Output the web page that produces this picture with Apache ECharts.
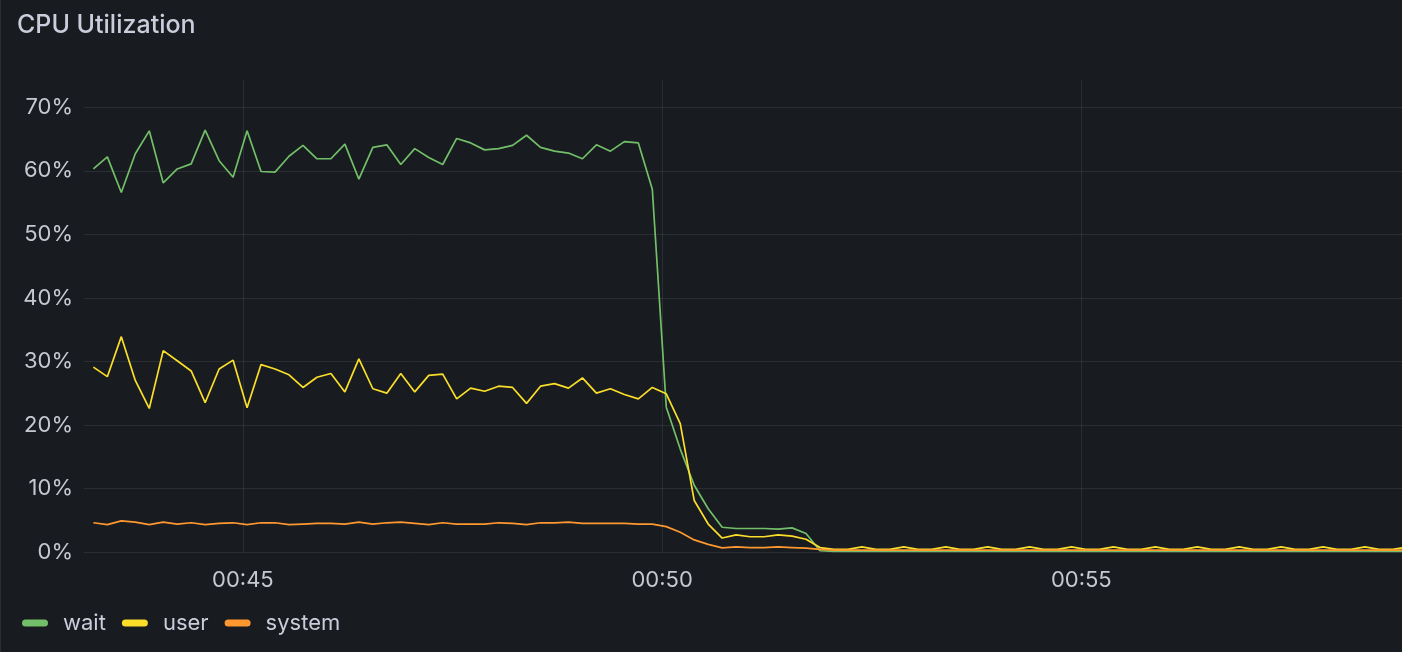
<!DOCTYPE html>
<html>
<head>
<meta charset="utf-8">
<script src="https://cdn.jsdelivr.net/npm/echarts@6/dist/echarts.min.js"></script>
<style>
html, body { margin: 0; padding: 0; background: #181b1f; }
#chart { width: 1402px; height: 652px; box-sizing: border-box; border-left: 1px solid #2a2d33; }
</style>
</head>
<body>
<div id="chart"></div>
<script>
// samples every 10s, starting 00:43:13
const seriesNames = ['wait', 'user', 'system'];
const seriesColors = ['#73bf69', '#fade2a', '#ff9830'];

const waitValues = [
    60.3, 62.2, 56.6, 62.7, 66.3, 58.1, 60.3, 61.1, 66.4, 61.6,
    59.0, 66.3, 59.9, 59.8, 62.3, 64.0, 61.9, 61.9, 64.2, 58.7,
    63.7, 64.1, 61.0, 63.5, 62.1, 61.0, 65.1, 64.4, 63.3, 63.5,
    64.0, 65.6, 63.7, 63.1, 62.8, 61.9, 64.1, 63.1, 64.6, 64.4,
    57.1, 22.8, 16.2, 10.5, 6.8, 3.9, 3.7, 3.7, 3.7, 3.6,
    3.8, 2.9, 0.2, 0.1, 0.1, 0.1, 0.1, 0.1, 0.1, 0.1,
    0.1, 0.1, 0.1, 0.1, 0.1, 0.1, 0.1, 0.1, 0.1, 0.1,
    0.1, 0.1, 0.1, 0.1, 0.1, 0.1, 0.1, 0.1, 0.1, 0.1,
    0.1, 0.1, 0.1, 0.1, 0.1, 0.1, 0.1, 0.1, 0.1, 0.1,
    0.1, 0.1, 0.1, 0.1, 0.1
];
const userValues = [
    29.1, 27.6, 33.9, 27.0, 22.6, 31.7, 30.1, 28.5, 23.5, 28.8,
    30.2, 22.7, 29.5, 28.8, 27.9, 25.9, 27.5, 28.1, 25.2, 30.4,
    25.7, 25.0, 28.1, 25.2, 27.8, 28.0, 24.1, 25.8, 25.3, 26.1,
    25.9, 23.4, 26.1, 26.5, 25.8, 27.4, 25.0, 25.7, 24.8, 24.1,
    25.9, 24.9, 20.2, 8.1, 4.4, 2.2, 2.7, 2.4, 2.4, 2.7,
    2.5, 2.0, 0.7, 0.4, 0.4, 0.8, 0.4, 0.4, 0.8, 0.4,
    0.4, 0.8, 0.4, 0.4, 0.8, 0.4, 0.4, 0.8, 0.4, 0.4,
    0.8, 0.4, 0.4, 0.8, 0.4, 0.4, 0.8, 0.4, 0.4, 0.8,
    0.4, 0.4, 0.8, 0.4, 0.4, 0.8, 0.4, 0.4, 0.8, 0.4,
    0.4, 0.8, 0.4, 0.4, 0.8
];
const systemValues = [
    4.6, 4.3, 4.9, 4.7, 4.3, 4.7, 4.4, 4.6, 4.3, 4.5,
    4.6, 4.3, 4.6, 4.6, 4.3, 4.4, 4.5, 4.5, 4.4, 4.7,
    4.4, 4.6, 4.7, 4.5, 4.3, 4.6, 4.4, 4.4, 4.4, 4.6,
    4.5, 4.3, 4.6, 4.6, 4.7, 4.5, 4.5, 4.5, 4.5, 4.4,
    4.4, 4.0, 3.1, 1.9, 1.2, 0.65, 0.8, 0.7, 0.7, 0.8,
    0.7, 0.6, 0.4, 0.3, 0.3, 0.3, 0.3, 0.3, 0.3, 0.3,
    0.3, 0.3, 0.3, 0.3, 0.3, 0.3, 0.3, 0.3, 0.3, 0.3,
    0.3, 0.3, 0.3, 0.3, 0.3, 0.3, 0.3, 0.3, 0.3, 0.3,
    0.3, 0.3, 0.3, 0.3, 0.3, 0.3, 0.3, 0.3, 0.3, 0.3,
    0.3, 0.3, 0.3, 0.3, 0.3
];

const startTime = new Date(2024, 0, 1, 0, 43, 13).getTime();
const stepMs = 10000;
const rangeStart = new Date(2024, 0, 1, 0, 43, 6).getTime() + 300;
const rangeEnd = new Date(2024, 0, 1, 0, 58, 49).getTime() + 500;

const times = waitValues.map(function (v, i) {
    return startTime + i * stepMs;
});

function toPairs(values) {
    return values.map(function (v, i) {
        return [times[i], v];
    });
}

const chart = echarts.init(document.getElementById('chart'));
const labelColor = '#c7c8d2';
const gridColor = 'rgba(204,204,220,0.1)';
const pill = 'path://M3.5,0H22.5A3.5,3.5,0,0,1,22.5,7H3.5A3.5,3.5,0,0,1,3.5,0Z';

const option = {
    backgroundColor: '#181b1f',
    animation: false,
    textStyle: { fontFamily: 'Inter' },
    title: {
        text: 'CPU Utilization',
        left: 16,
        top: 13,
        padding: 0,
        textStyle: { color: '#ccccdc', fontSize: 25, fontWeight: 500, fontFamily: 'Inter' },
    },
    legend: {
        left: 21,
        top: 612,
        padding: 0,
        icon: pill,
        itemWidth: 26,
        itemHeight: 7,
        itemGap: 16,
        data: seriesNames,
        textStyle: { color: '#ccccdc', fontSize: 22, fontFamily: 'Inter', padding: [0, 0, 0, 10] },
    },
    grid: { left: 83, right: 0, top: 80, bottom: 100, containLabel: false },
    xAxis: {
        type: 'time',
        min: rangeStart,
        max: rangeEnd,
        splitNumber: 3,
        minInterval: 300000,
        axisLine: { show: false },
        axisTick: { show: false },
        axisLabel: {
            color: labelColor,
            fontSize: 22,
            margin: 17,
            showMinLabel: false,
            showMaxLabel: false,
            formatter: '{HH}:{mm}',
        },
        splitLine: { show: true, showMinLine: false, showMaxLine: false, lineStyle: { color: gridColor } },
    },
    yAxis: {
        type: 'value',
        min: 0,
        max: 74.3,
        interval: 10,
        axisLine: { show: false },
        axisTick: { show: false },
        axisLabel: {
            color: labelColor,
            fontSize: 22,
            margin: 11,
            showMaxLabel: false,
            formatter: '{value}%',
        },
        splitLine: { showMaxLine: false, lineStyle: { color: gridColor } },
    },
    series: [
        { name: seriesNames[0], data: toPairs(waitValues) },
        { name: seriesNames[1], data: toPairs(userValues) },
        { name: seriesNames[2], data: toPairs(systemValues) },
    ].map(function (s, i) {
        return Object.assign({
            type: 'line',
            showSymbol: false,
            symbol: 'none',
            color: seriesColors[i],
            lineStyle: { width: 1.7, color: seriesColors[i] },
        }, s);
    }),
};
chart.setOption(option);
</script>
</body>
</html>
